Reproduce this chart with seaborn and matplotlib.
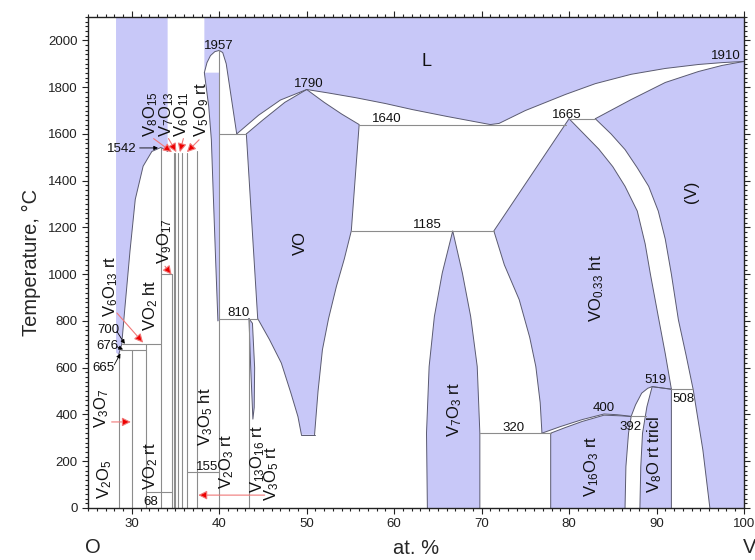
import matplotlib
matplotlib.use("Agg")
import matplotlib.pyplot as plt
from matplotlib.ticker import MultipleLocator
import pandas as pd
import seaborn as sns

BLUE = '#c8c8f8'
EDGE = '#5a5a70'
ISO = '#8c8c8c'
T_TOP = 2100

# phase boundaries (x = at.% V, T = degC)
liq_vo2_x = [28.5, 28.85, 29.2, 29.8, 30.4, 31.3, 32.3, 33.33, 33.8, 34.1]
liq_vo2_T = [655, 700, 850, 1100, 1320, 1462, 1525, 1542, 1533, 1525]

dome_x = [38.3, 38.6, 39.0, 39.5, 40.0, 40.4, 40.8, 41.2, 41.6, 42.0]
dome_T = [1862, 1905, 1935, 1952, 1957, 1948, 1900, 1800, 1700, 1600]

liq_vo_left_x = [42.0, 44.5, 47.0, 50.0]
liq_vo_left_T = [1600, 1680, 1745, 1790]
liq_vo_right_x = [50.0, 52.5, 55.6, 59.0, 62.1, 66.0, 71.0]
liq_vo_right_T = [1790, 1775, 1755, 1730, 1704, 1675, 1640]
liq_v_x = [71.0, 72.0, 75.0, 79.6, 83.0, 87.1, 91.0, 94.8, 97.5, 100.0]
liq_v_T = [1640, 1645, 1700, 1769, 1815, 1855, 1880, 1897, 1905, 1910]
sol_v_x = [83.0, 87.1, 91.0, 94.8, 97.5, 100.0]
sol_v_T = [1665, 1747, 1820, 1867, 1893, 1910]

vo_top_x = [43.1, 45.0, 47.5, 50.0]
vo_top_T = [1600, 1660, 1735, 1790]
vo_right_x = [50.0, 52.0, 54.0, 56.0, 55.1, 54.3, 53.4, 52.5, 51.8, 51.3, 50.9]
vo_right_T = [1790, 1735, 1685, 1640, 1185, 1065, 948, 810, 677, 500, 313]
vo_left_x = [43.1, 44.4, 45.75, 47.1, 48.2, 49.0, 49.4]
vo_left_T = [1600, 810, 720, 620, 491, 391, 313]

sliver_x = [38.3, 38.8, 39.1, 39.3, 39.6, 39.85]
sliver_T = [1862, 1717, 1576, 1362, 1050, 800]
v13_x = [43.4, 43.8, 44.05, 44.0, 43.85, 43.6, 43.4]
v13_T = [810, 790, 600, 430, 380, 600, 810]

v7o3_x = [63.8, 63.7, 64.0, 64.6, 65.5, 66.7, 67.8, 68.75, 69.5, 69.8, 69.8]
v7o3_T = [0, 320, 605, 819, 1005, 1185, 1005, 819, 605, 320, 0]

vo033_left_x = [80.0, 71.4, 72.6, 74.3, 75.5, 76.2, 76.7, 76.9]
vo033_left_T = [1665, 1185, 1040, 891, 730, 605, 450, 320]
vo033_bot_x = [76.9, 79.0, 81.5, 84.0, 85.5, 87.1, 87.6, 88.3, 89.0, 89.5, 91.7]
vo033_bot_T = [320, 348, 378, 402, 399, 392, 441, 491, 512, 519, 508]
vo033_right_x = [91.7, 91.0, 90.2, 89.3, 88.7, 87.8, 86.4, 85.0, 83.4, 81.7, 80.0]
vo033_right_T = [508, 660, 819, 1000, 1130, 1270, 1376, 1460, 1535, 1600, 1665]

v_left_x = [83.0, 84.8, 86.4, 87.8, 89.1, 90.2, 91.0, 91.7, 92.5, 93.4, 94.2, 95.3, 96.1]
v_left_T = [1665, 1600, 1533, 1455, 1376, 1270, 1150, 1000, 805, 650, 505, 248, 0]

v16_x = [77.9, 77.9, 79.5, 81.5, 84.0, 86.0, 87.1, 86.8, 86.5, 86.4]
v16_T = [0, 320, 343, 370, 397, 394, 391, 320, 177, 0]
v8o_x = [88.1, 88.2, 88.4, 88.9, 89.5, 91.7, 91.7]
v8o_T = [0, 177, 320, 433, 519, 508, 0]

# compounds: composition and the temperature where the line stops
compound_x = [28.57, 30.0, 31.58, 33.33, 34.62, 34.78, 35.0, 35.29, 35.71, 36.36, 37.5, 40.0, 43.4]
compound_top = [665, 676, 700, 1542, 1000, 1520, 1520, 1520, 1520, 1520, 1525, 1957, 810]

# invariant / transition isotherms
iso_T = [1640, 1665, 1600, 1185, 810, 700, 676, 320, 155, 68, 508, 392, 1000]
iso_x0 = [56.0, 80.0, 40.0, 55.1, 40.0, 28.85, 28.8, 69.8, 36.36, 31.58, 91.7, 87.1, 33.33]
iso_x1 = [79.6, 83.0, 43.1, 71.4, 44.4, 33.33, 31.58, 77.9, 40.0, 34.62, 94.2, 88.8, 34.62]

# (text, x, T, size, rotation)
labels = [
    ('V$_2$O$_5$', 26.9, 124, 12, 90), ('V$_3$O$_7$', 26.5, 428, 12, 90),
    ('665', 26.8, 600, 9.5, 0), ('676', 27.2, 694, 9.5, 0), ('700', 27.3, 762, 9.5, 0),
    ('V$_6$O$_{13}$ rt', 27.6, 947, 12, 90), ('VO$_2$ ht', 32.2, 865, 12, 90),
    ('VO$_2$ rt', 32.2, 181, 12, 90), ('68', 32.2, 26, 9.5, 0),
    ('V$_9$O$_{17}$', 33.8, 1140, 12, 90), ('1542', 28.9, 1535, 9.5, 0),
    ('1957', 40.0, 1978, 9.5, 0), ('V$_3$O$_5$ ht', 38.5, 390, 12, 90),
    ('155', 38.6, 176, 9.5, 0), ('V$_2$O$_3$ rt', 40.9, 197, 12, 90),
    ('V$_{13}$O$_{16}$ rt', 44.4, 210, 12, 90), ('V$_3$O$_5$ rt', 46.0, 146, 12, 90),
    ('810', 42.2, 835, 9.5, 0), ('VO', 49.3, 1135, 12, 90), ('1790', 50.2, 1812, 9.5, 0),
    ('1640', 59.2, 1662, 9.5, 0), ('L', 63.7, 1910, 13, 0), ('1185', 63.8, 1212, 9.5, 0),
    ('V$_7$O$_3$ rt', 66.9, 420, 12, 90), ('320', 73.7, 343, 9.5, 0),
    ('1665', 79.7, 1683, 9.5, 0), ('1910', 97.9, 1932, 9.5, 0), ('(V)', 94.0, 1353, 12, 90),
    ('VO$_{0.33}$ ht', 83.2, 942, 12, 90), ('400', 84.0, 428, 9.5, 0),
    ('392', 87.0, 347, 9.5, 0), ('519', 89.9, 548, 9.5, 0), ('508', 93.1, 467, 9.5, 0),
    ('V$_{16}$O$_3$ rt', 82.6, 180, 12, 90), ('V$_8$O rt tricl', 89.8, 231, 12, 90),
]
# Magneli labels above the 1542 dome (bottom-anchored)
top_labels = ['V$_8$O$_{15}$', 'V$_7$O$_{13}$', 'V$_6$O$_{11}$', 'V$_5$O$_9$ rt']
top_label_x = [32.2, 34.0, 35.7, 37.95]

# arrows: (x_from, T_from, x_to, T_to)
red_arrows = [(32.5, 1580, 34.6, 1522), (34.2, 1580, 35.1, 1522), (35.9, 1580, 35.5, 1522),
              (37.7, 1575, 36.3, 1522), (28.3, 834, 31.3, 707), (27.7, 368, 29.9, 368),
              (33.8, 1034, 34.55, 998), (45.2, 55, 37.6, 55)]
black_arrows = [(30.9, 1540, 33.0, 1540), (28.3, 755, 29.2, 702), (28.3, 690, 29.0, 678),
                (28.0, 612, 28.7, 660)]

sns.set_style('ticks')
plt.rcParams['font.family'] = ['Liberation Sans', 'DejaVu Sans']
plt.rcParams['mathtext.default'] = 'regular'

fig = plt.figure(figsize=(7.55, 5.6), dpi=100)
ax = fig.add_axes([0.1166, 0.0929, 0.8688, 0.8767])

# single-phase regions (blue)
polys = [
    ([28.2, 28.2] + liq_vo2_x + [34.1], [T_TOP, 665] + liq_vo2_T + [T_TOP]),
    ([38.3] + dome_x + liq_vo_left_x[1:] + liq_vo_right_x[1:] + liq_v_x[1:] + [100.0],
     [T_TOP] + dome_T + liq_vo_left_T[1:] + liq_vo_right_T[1:] + liq_v_T[1:] + [T_TOP]),
    (sliver_x + [40.0, 40.0], sliver_T + [800, 1862]),
    (v13_x, v13_T),
    (vo_top_x + vo_right_x[1:] + vo_left_x[::-1], vo_top_T + vo_right_T[1:] + vo_left_T[::-1]),
    (v7o3_x, v7o3_T),
    (vo033_left_x + vo033_bot_x[1:] + vo033_right_x[1:],
     vo033_left_T + vo033_bot_T[1:] + vo033_right_T[1:]),
    (sol_v_x + [100.0] + v_left_x[::-1], sol_v_T + [0] + v_left_T[::-1]),
    (v16_x, v16_T),
    (v8o_x, v8o_T),
]
for px, pt in polys:
    ax.fill(px, pt, color=BLUE, lw=0, zorder=1)

# boundary curves
curves = {
    'liq_vo2': (liq_vo2_x, liq_vo2_T), 'dome': (dome_x, dome_T),
    'lvl': (liq_vo_left_x, liq_vo_left_T), 'lvr': (liq_vo_right_x, liq_vo_right_T),
    'lv': (liq_v_x, liq_v_T), 'sv': (sol_v_x, sol_v_T),
    'vot': (vo_top_x, vo_top_T), 'vor': (vo_right_x, vo_right_T), 'vol': (vo_left_x, vo_left_T),
    'vob': ([49.4, 50.9], [313, 313]), 'sliver': (sliver_x, sliver_T), 'v13': (v13_x, v13_T),
    'v7o3': (v7o3_x, v7o3_T), 'v033l': (vo033_left_x, vo033_left_T),
    'v033b': (vo033_bot_x, vo033_bot_T), 'v033r': (vo033_right_x, vo033_right_T),
    'vl': (v_left_x, v_left_T), 'v16': (v16_x, v16_T), 'v8o': (v8o_x, v8o_T),
}
rows = []
for name, (cx, ct) in curves.items():
    for i, (a, b) in enumerate(zip(cx, ct)):
        rows.append({'curve': name, 'order': i, 'x': a, 'T': b})
bound = pd.DataFrame(rows)
sns.lineplot(data=bound, x='x', y='T', units='curve', estimator=None, sort=False,
             color=EDGE, lw=0.7, legend=False, ax=ax, zorder=2)

rows = []
for i, (cx, top) in enumerate(zip(compound_x, compound_top)):
    rows += [{'seg': 'c%d' % i, 'x': cx, 'T': 0}, {'seg': 'c%d' % i, 'x': cx, 'T': top}]
for i, (t, a, b) in enumerate(zip(iso_T, iso_x0, iso_x1)):
    rows += [{'seg': 'i%d' % i, 'x': a, 'T': t}, {'seg': 'i%d' % i, 'x': b, 'T': t}]
segs = pd.DataFrame(rows)
sns.lineplot(data=segs, x='x', y='T', units='seg', estimator=None, sort=False,
             color=ISO, lw=0.8, legend=False, ax=ax, zorder=2)

for text, x, t, size, rot in labels:
    ax.text(x, t, text, fontsize=size, rotation=rot, ha='center', va='center',
            color='#111111', zorder=4)
for text, x in zip(top_labels, top_label_x):
    ax.text(x, 1588, text, fontsize=12, rotation=90, ha='center', va='bottom',
            color='#111111', zorder=4)

for x0, t0, x1, t1 in red_arrows:
    ax.annotate('', xy=(x1, t1), xytext=(x0, t0), zorder=5,
                arrowprops=dict(arrowstyle='-|>', ec='#f07878', fc='#ee0000',
                                lw=0.8, mutation_scale=13, shrinkA=0, shrinkB=0))
for x0, t0, x1, t1 in black_arrows:
    ax.annotate('', xy=(x1, t1), xytext=(x0, t0), zorder=5,
                arrowprops=dict(arrowstyle='-|>', color='black', lw=0.6,
                                mutation_scale=6, shrinkA=0, shrinkB=0))

ax.set_xlim(25, 100)
ax.set_ylim(0, T_TOP)
ax.xaxis.set_major_locator(MultipleLocator(10))
ax.xaxis.set_minor_locator(MultipleLocator(1))
ax.yaxis.set_major_locator(MultipleLocator(200))
ax.yaxis.set_minor_locator(MultipleLocator(20))
ax.set_yticks(range(0, 2001, 200))
ax.tick_params(which='both', direction='out', top=True, right=True, labelsize=9.5,
               width=0.8, colors='#222222')
ax.tick_params(which='major', length=4)
ax.tick_params(which='minor', length=2)
for sp in ax.spines.values():
    sp.set_linewidth(1.0)
    sp.set_color('#222222')

ax.set_xlabel('at. %', fontsize=14.5, labelpad=6)
ax.set_ylabel('Temperature, °C', fontsize=14.5, labelpad=5)
ax.text(0.008, -0.08, 'O', transform=ax.transAxes, fontsize=14.5, ha='center', va='center')
ax.text(1.009, -0.08, 'V', transform=ax.transAxes, fontsize=14.5, ha='center', va='center')

fig.savefig('out.png', dpi=100)
